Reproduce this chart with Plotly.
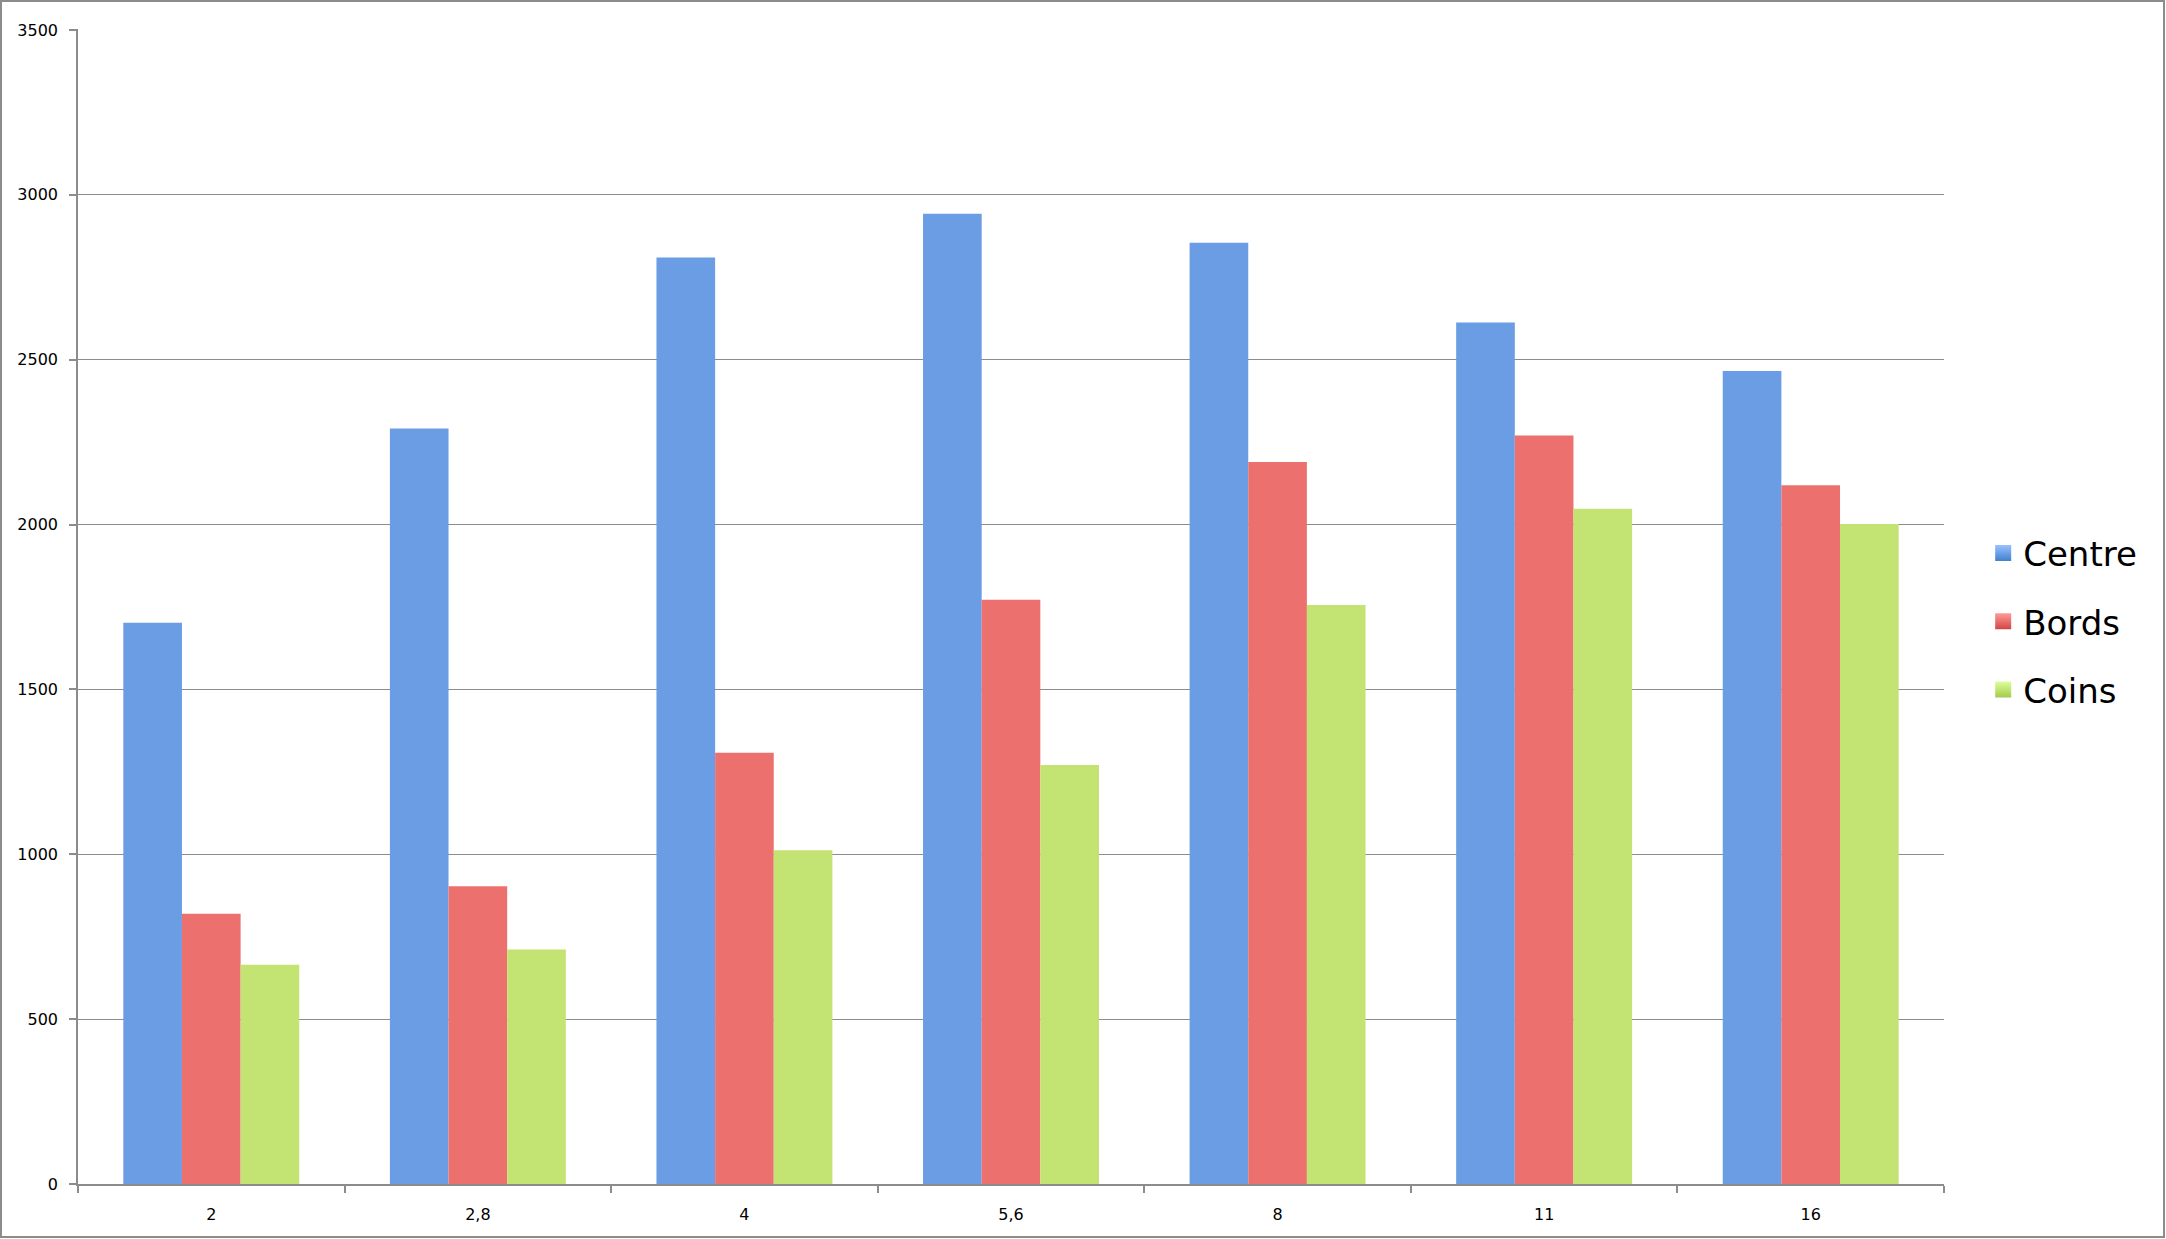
import plotly.graph_objects as go

categories = ["2", "2,8", "4", "5,6", "8", "11", "16"]
centre = [1702, 2291, 2810, 2943, 2855, 2613, 2466]
bords = [820, 903, 1308, 1772, 2190, 2270, 2119]
coins = [665, 711, 1012, 1271, 1756, 2048, 2002]
y_ticks = [0, 500, 1000, 1500, 2000, 2500, 3000, 3500]

W, H = 2166, 1239
ML, MR, MT, MB = 78, 222, 29, 55

fig = go.Figure()
series = [("Centre", centre, "#6a9de3", "#99c0ff", "#4080d0"),
          ("Bords", bords, "#ec706d", "#ff9b98", "#d04545"),
          ("Coins", coins, "#c3e373", "#ddff99", "#a3ca4c")]
for name, vals, col, top, bot in series:
    fig.add_trace(go.Bar(
        x=categories, y=vals, name=name, legendgroup=name, showlegend=False,
        marker=dict(color=col, line=dict(width=0)),
    ))
for name, vals, col, top, bot in series:
    fig.add_trace(go.Scatter(
        x=[None], y=[None], mode="markers", name=name, legendgroup=name,
        marker=dict(symbol="square", size=16, color=top,
                    gradient=dict(type="vertical", color=bot),
                    line=dict(width=0)),
    ))

pw = W - ML - MR
ph = H - MT - MB
fig.update_layout(
    width=W, height=H,
    margin=dict(l=ML, r=MR, t=MT, b=MB),
    paper_bgcolor="white", plot_bgcolor="white",
    barmode="group", bargap=0.34, bargroupgap=0,
    font=dict(family="DejaVu Sans", color="black", size=16),
    legend=dict(x=1.021, xanchor="left", y=0.487, yanchor="middle",
                font=dict(size=34, family="DejaVu Sans"),
                traceorder="grouped", tracegroupgap=21, itemsizing="trace",
                bgcolor="rgba(0,0,0,0)"),
    xaxis=dict(type="category", showline=True, linecolor="#8c8c8c", linewidth=1.5,
               ticks="outside", tickson="boundaries", ticklen=7, tickcolor="#8c8c8c",
               tickwidth=1.5, showgrid=False, ticklabelstandoff=15,
               tickfont=dict(size=16)),
    yaxis=dict(range=[0, 3503], tickvals=y_ticks, showline=True, linecolor="#8c8c8c",
               linewidth=1.5, ticks="outside", ticklen=7, tickcolor="#8c8c8c",
               tickwidth=1.5, showgrid=True, gridcolor="#8c8c8c", gridwidth=1.2,
               zeroline=False, ticklabelstandoff=8, tickfont=dict(size=16)),
    shapes=[dict(type="rect", xref="paper", yref="paper",
                 x0=(-ML + 1) / pw, x1=(W - ML - 2) / pw,
                 y0=(-MB + 2) / ph, y1=(H - MB - 1) / ph,
                 line=dict(color="#8c8c8c", width=2), fillcolor="rgba(0,0,0,0)",
                 layer="below")],
)

fig.write_html("out.html", config={"displayModeBar": False},
               post_script="document.body.style.margin='0';document.body.style.overflow='hidden';")
